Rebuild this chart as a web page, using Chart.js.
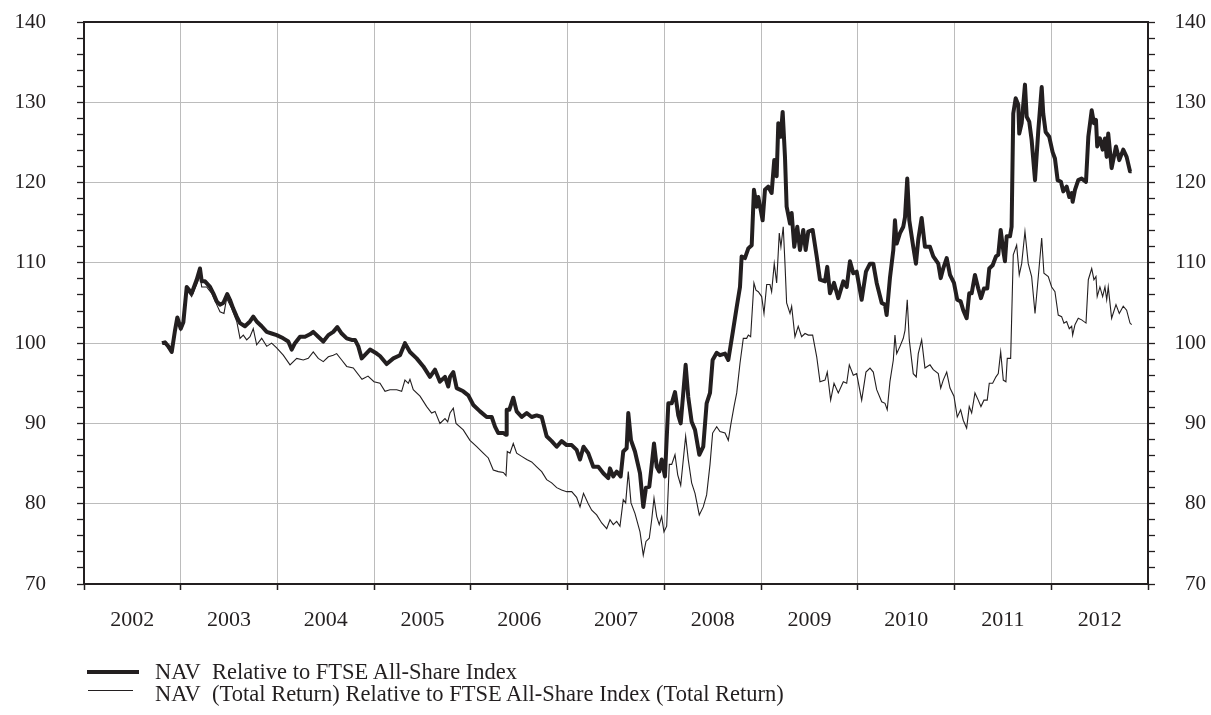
<!DOCTYPE html>
<html>
<head>
<meta charset="utf-8">
<title>NAV relative to FTSE All-Share Index</title>
<script src="https://cdn.jsdelivr.net/npm/chart.js@4.4.0/dist/chart.umd.min.js"></script>
<style>
  body { margin: 0; background: #fff; }
  #wrap { position: relative; width: 1211px; height: 715px; }
  canvas { position: absolute; left: 0; top: 0; }
  .key { position: absolute; background: #231f20; }
  .label {
    position: absolute; left: 155px; white-space: nowrap;
    font-family: 'Liberation Serif', 'Times New Roman', serif;
    font-size: 22.5px; line-height: 22px; color: #231f20;
  }
</style>
</head>
<body>
<div id="wrap">
  <canvas id="chart" width="1211" height="715"></canvas>
  <div class="key" style="left:87px; top:670px; width:52px; height:4px;"></div>
  <div class="label" style="top:661px;">NAV&nbsp; Relative to FTSE All-Share Index</div>
  <div class="key" style="left:88px; top:690px; width:45px; height:1px;"></div>
  <div class="label" style="top:683px;">NAV&nbsp; (Total Return) Relative to FTSE All-Share Index (Total Return)</div>
</div>
<script>
// dates as decimal years
const navYears = [
  2002.806, 2002.837, 2002.872, 2002.907, 2002.941, 2002.965, 2003.000, 2003.027, 2003.062, 2003.089,
  2003.113, 2003.137, 2003.165, 2003.199, 2003.217, 2003.251, 2003.303, 2003.337, 2003.372, 2003.406,
  2003.440, 2003.481, 2003.509, 2003.543, 2003.579, 2003.613, 2003.664, 2003.716, 2003.750, 2003.785,
  2003.837, 2003.889, 2003.940, 2003.992, 2004.060, 2004.112, 2004.147, 2004.181, 2004.233, 2004.285,
  2004.336, 2004.370, 2004.422, 2004.474, 2004.526, 2004.577, 2004.619, 2004.664, 2004.716, 2004.767,
  2004.802, 2004.836, 2004.871, 2004.957, 2005.026, 2005.060, 2005.129, 2005.198, 2005.267, 2005.318,
  2005.370, 2005.439, 2005.508, 2005.577, 2005.629, 2005.680, 2005.732, 2005.766, 2005.784, 2005.818,
  2005.853, 2005.921, 2005.973, 2006.025, 2006.094, 2006.163, 2006.215, 2006.249, 2006.283, 2006.335,
  2006.363, 2006.370, 2006.397, 2006.438, 2006.473, 2006.525, 2006.577, 2006.628, 2006.680, 2006.732,
  2006.783, 2006.835, 2006.887, 2006.938, 2006.990, 2007.042, 2007.093, 2007.128, 2007.164, 2007.213,
  2007.265, 2007.317, 2007.369, 2007.420, 2007.438, 2007.472, 2007.507, 2007.548, 2007.575, 2007.610,
  2007.627, 2007.655, 2007.696, 2007.748, 2007.782, 2007.810, 2007.844, 2007.862, 2007.893, 2007.921,
  2007.947, 2007.972, 2008.006, 2008.041, 2008.076, 2008.110, 2008.144, 2008.169, 2008.220, 2008.247,
  2008.282, 2008.317, 2008.361, 2008.402, 2008.437, 2008.472, 2008.499, 2008.541, 2008.575, 2008.627,
  2008.661, 2008.709, 2008.748, 2008.782, 2008.799, 2008.833, 2008.868, 2008.903, 2008.926, 2008.954,
  2008.971, 2008.996, 2009.016, 2009.040, 2009.074, 2009.109, 2009.136, 2009.161, 2009.178, 2009.202,
  2009.223, 2009.247, 2009.264, 2009.299, 2009.316, 2009.343, 2009.374, 2009.402, 2009.436, 2009.461,
  2009.488, 2009.533, 2009.575, 2009.609, 2009.661, 2009.684, 2009.712, 2009.754, 2009.798, 2009.850,
  2009.885, 2009.919, 2009.953, 2009.988, 2010.040, 2010.084, 2010.126, 2010.160, 2010.195, 2010.247,
  2010.281, 2010.298, 2010.332, 2010.367, 2010.384, 2010.402, 2010.436, 2010.470, 2010.488, 2010.511,
  2010.532, 2010.573, 2010.601, 2010.625, 2010.660, 2010.694, 2010.746, 2010.780, 2010.832, 2010.857,
  2010.883, 2010.919, 2010.953, 2010.994, 2011.028, 2011.063, 2011.090, 2011.125, 2011.152, 2011.177,
  2011.211, 2011.245, 2011.273, 2011.304, 2011.338, 2011.359, 2011.394, 2011.428, 2011.452, 2011.477,
  2011.504, 2011.521, 2011.539, 2011.573, 2011.590, 2011.607, 2011.632, 2011.659, 2011.669, 2011.694,
  2011.728, 2011.746, 2011.772, 2011.797, 2011.832, 2011.866, 2011.901, 2011.917, 2011.942, 2011.979,
  2012.014, 2012.038, 2012.066, 2012.100, 2012.124, 2012.159, 2012.186, 2012.211, 2012.221, 2012.245,
  2012.279, 2012.314, 2012.359, 2012.383, 2012.418, 2012.441, 2012.462, 2012.475, 2012.503, 2012.531,
  2012.555, 2012.573, 2012.589, 2012.624, 2012.669, 2012.703, 2012.744, 2012.779, 2012.814, 2012.831
];
const navValues = [
  100.0, 100.1, 99.6, 98.9, 101.6, 103.2, 101.8, 102.6, 107.0, 106.6,
  106.2, 107.0, 107.9, 109.3, 107.7, 107.7, 107.0, 106.2, 105.2, 104.8,
  105.0, 106.1, 105.4, 104.3, 103.3, 102.5, 102.1, 102.7, 103.3, 102.7,
  102.1, 101.4, 101.2, 101.0, 100.6, 100.2, 99.2, 100.0, 100.8, 100.8,
  101.1, 101.4, 100.8, 100.2, 101.0, 101.4, 102.0, 101.2, 100.6, 100.4,
  100.4, 99.6, 98.1, 99.2, 98.7, 98.4, 97.4, 98.1, 98.5, 100.0,
  98.9, 98.1, 97.1, 95.8, 96.7, 95.2, 95.8, 94.6, 95.8, 96.4,
  94.4, 94.0, 93.5, 92.3, 91.5, 90.8, 90.8, 89.6, 88.8, 88.8,
  88.6, 91.7, 91.7, 93.2, 91.5, 90.8, 91.3, 90.8, 91.0, 90.8,
  88.4, 87.8, 87.1, 87.8, 87.3, 87.3, 86.7, 85.5, 87.1, 86.3,
  84.6, 84.6, 83.8, 83.2, 84.4, 83.4, 84.0, 83.4, 86.5, 86.9,
  91.3, 87.9, 86.5, 83.8, 79.6, 82.0, 82.1, 84.0, 87.5, 84.6,
  84.0, 85.5, 83.4, 92.5, 92.5, 93.9, 91.0, 90.0, 97.3, 93.3,
  90.2, 89.2, 86.1, 87.1, 92.5, 93.8, 97.9, 98.8, 98.5, 98.7,
  97.9, 101.5, 104.5, 107.0, 110.8, 110.6, 111.8, 112.2, 119.1, 117.0,
  118.2, 116.6, 115.3, 119.1, 119.5, 118.7, 122.8, 120.8, 127.4, 125.7,
  128.8, 123.2, 117.0, 114.9, 116.2, 112.0, 114.5, 111.6, 114.1, 111.6,
  113.9, 114.1, 110.8, 107.9, 107.7, 109.5, 106.2, 107.5, 105.6, 107.7,
  107.0, 110.2, 108.7, 108.9, 105.4, 108.9, 109.9, 109.9, 107.5, 105.0,
  104.8, 103.5, 108.1, 111.6, 115.3, 112.4, 113.7, 114.5, 115.7, 120.5,
  115.3, 112.0, 109.9, 112.9, 115.6, 112.0, 112.0, 110.8, 109.9, 108.1,
  109.3, 110.6, 108.5, 107.5, 105.4, 105.2, 104.1, 103.1, 106.2, 106.2,
  108.5, 106.8, 105.6, 106.8, 106.8, 109.3, 109.7, 110.8, 111.0, 114.1,
  111.5, 110.2, 113.3, 113.3, 114.5, 128.6, 130.5, 129.7, 126.1, 127.4,
  132.2, 128.2, 127.6, 125.3, 120.3, 126.5, 131.9, 128.6, 126.3, 125.7,
  123.8, 123.0, 120.3, 120.1, 118.9, 119.5, 118.2, 118.7, 117.6, 119.1,
  120.3, 120.5, 120.1, 125.7, 129.0, 127.4, 127.8, 124.5, 125.5, 124.1,
  125.5, 123.2, 126.1, 121.8, 124.5, 122.8, 124.1, 123.2, 121.4, 121.4
];
const trYears = [
  2002.806, 2002.837, 2002.872, 2002.907, 2002.941, 2002.965, 2003.000, 2003.027, 2003.062, 2003.089,
  2003.113, 2003.137, 2003.165, 2003.199, 2003.217, 2003.268, 2003.320, 2003.372, 2003.406, 2003.447,
  2003.475, 2003.527, 2003.579, 2003.613, 2003.647, 2003.682, 2003.716, 2003.750, 2003.785, 2003.837,
  2003.889, 2003.940, 2003.992, 2004.060, 2004.130, 2004.199, 2004.267, 2004.319, 2004.370, 2004.422,
  2004.474, 2004.526, 2004.577, 2004.612, 2004.664, 2004.716, 2004.784, 2004.874, 2004.936, 2004.998,
  2005.060, 2005.112, 2005.163, 2005.233, 2005.284, 2005.318, 2005.353, 2005.370, 2005.404, 2005.474,
  2005.543, 2005.594, 2005.629, 2005.680, 2005.732, 2005.760, 2005.784, 2005.818, 2005.846, 2005.921,
  2005.990, 2006.060, 2006.128, 2006.180, 2006.231, 2006.283, 2006.335, 2006.363, 2006.376, 2006.404,
  2006.438, 2006.473, 2006.525, 2006.577, 2006.628, 2006.680, 2006.732, 2006.783, 2006.835, 2006.887,
  2006.938, 2006.990, 2007.042, 2007.093, 2007.128, 2007.164, 2007.213, 2007.249, 2007.300, 2007.352,
  2007.404, 2007.438, 2007.472, 2007.507, 2007.541, 2007.575, 2007.600, 2007.627, 2007.655, 2007.696,
  2007.748, 2007.782, 2007.810, 2007.844, 2007.869, 2007.893, 2007.921, 2007.947, 2007.972, 2007.996,
  2008.024, 2008.051, 2008.076, 2008.110, 2008.138, 2008.169, 2008.220, 2008.247, 2008.282, 2008.317,
  2008.361, 2008.402, 2008.437, 2008.472, 2008.499, 2008.541, 2008.575, 2008.627, 2008.661, 2008.689,
  2008.720, 2008.748, 2008.782, 2008.816, 2008.851, 2008.868, 2008.892, 2008.926, 2008.947, 2008.971,
  2009.006, 2009.030, 2009.058, 2009.092, 2009.109, 2009.136, 2009.161, 2009.188, 2009.205, 2009.229,
  2009.247, 2009.264, 2009.299, 2009.316, 2009.350, 2009.384, 2009.419, 2009.454, 2009.488, 2009.533,
  2009.575, 2009.609, 2009.661, 2009.684, 2009.719, 2009.754, 2009.798, 2009.850, 2009.885, 2009.912,
  2009.953, 2009.988, 2010.040, 2010.084, 2010.126, 2010.160, 2010.195, 2010.247, 2010.281, 2010.304,
  2010.332, 2010.367, 2010.384, 2010.402, 2010.436, 2010.470, 2010.488, 2010.511, 2010.532, 2010.573,
  2010.604, 2010.625, 2010.660, 2010.694, 2010.746, 2010.780, 2010.832, 2010.857, 2010.883, 2010.919,
  2010.953, 2010.994, 2011.028, 2011.063, 2011.090, 2011.125, 2011.152, 2011.177, 2011.211, 2011.245,
  2011.273, 2011.304, 2011.338, 2011.359, 2011.394, 2011.428, 2011.452, 2011.477, 2011.504, 2011.531,
  2011.545, 2011.580, 2011.607, 2011.642, 2011.669, 2011.694, 2011.728, 2011.762, 2011.797, 2011.832,
  2011.866, 2011.901, 2011.924, 2011.969, 2012.004, 2012.038, 2012.072, 2012.107, 2012.131, 2012.159,
  2012.186, 2012.211, 2012.221, 2012.245, 2012.279, 2012.314, 2012.359, 2012.383, 2012.418, 2012.441,
  2012.462, 2012.475, 2012.503, 2012.531, 2012.555, 2012.573, 2012.589, 2012.624, 2012.669, 2012.703,
  2012.744, 2012.779, 2012.814, 2012.831
];
const trValues = [
  100.0, 100.0, 99.3, 98.8, 101.3, 102.8, 101.6, 102.3, 106.5, 106.2,
  105.8, 106.5, 107.3, 108.4, 107.0, 107.0, 106.2, 104.8, 103.9, 103.7,
  105.6, 104.3, 102.7, 100.6, 101.0, 100.4, 100.8, 101.8, 99.8, 100.6,
  99.6, 100.0, 99.4, 98.5, 97.3, 98.1, 97.9, 98.1, 98.9, 98.1,
  97.7, 98.3, 98.5, 98.7, 97.9, 97.1, 96.9, 95.5, 95.9, 95.2,
  95.0, 94.0, 94.2, 94.2, 94.0, 95.4, 95.0, 95.5, 94.2, 93.4,
  92.1, 91.3, 91.5, 90.0, 90.6, 90.2, 91.3, 91.9, 90.0, 89.2,
  87.9, 87.1, 86.3, 85.7, 84.2, 84.0, 83.9, 83.5, 86.5, 86.3,
  87.5, 86.3, 85.9, 85.5, 85.2, 84.6, 84.0, 83.0, 82.6, 82.0,
  81.7, 81.5, 81.5, 80.8, 79.6, 81.3, 80.0, 79.2, 78.6, 77.6,
  76.9, 78.0, 77.4, 77.8, 77.2, 80.5, 80.1, 84.0, 80.1, 78.8,
  76.5, 73.6, 75.3, 75.7, 78.0, 80.7, 78.4, 77.4, 78.4, 76.5,
  77.2, 84.9, 84.9, 86.1, 83.6, 82.3, 88.4, 85.5, 82.6, 81.3,
  78.6, 79.6, 81.1, 84.9, 88.8, 89.6, 89.0, 88.8, 87.9, 90.0,
  92.1, 93.8, 97.5, 100.6, 100.6, 101.0, 100.8, 107.5, 106.6, 106.4,
  105.8, 103.7, 107.3, 107.3, 106.4, 109.9, 107.5, 113.7, 112.0, 114.5,
  109.9, 105.0, 103.7, 104.6, 100.8, 102.1, 100.8, 101.2, 101.0, 101.0,
  98.3, 95.2, 95.4, 96.4, 92.9, 95.0, 93.8, 95.2, 95.0, 97.3,
  96.0, 96.2, 92.9, 96.4, 96.9, 96.4, 94.2, 92.7, 92.5, 91.7,
  95.2, 97.9, 101.0, 98.7, 99.6, 100.6, 101.6, 105.4, 100.4, 96.2,
  95.8, 98.7, 100.4, 96.9, 97.3, 96.7, 96.2, 94.4, 95.4, 96.4,
  94.4, 93.4, 90.8, 91.7, 90.4, 89.4, 92.1, 91.3, 93.8, 92.9,
  92.1, 92.9, 92.9, 95.0, 95.0, 95.8, 96.2, 98.9, 95.4, 95.2,
  98.1, 98.1, 111.0, 112.2, 108.5, 109.9, 113.9, 109.9, 108.3, 103.7,
  108.3, 113.1, 108.7, 108.3, 107.0, 106.4, 103.5, 103.3, 102.5, 102.7,
  101.8, 102.1, 101.0, 102.3, 103.1, 102.9, 102.5, 107.9, 109.3, 107.9,
  108.3, 105.8, 107.0, 105.8, 107.0, 105.4, 107.0, 103.1, 104.8, 103.7,
  104.6, 104.1, 102.5, 102.3
];

const yearMin = 2002;
const yearMax = 2013;
const valueMin = 70;
const valueMax = 140;

const ink = '#231f20';
const gridGrey = '#bcbcbc';
const none = 'rgba(0,0,0,0)';
const serif = "'Liberation Serif', 'Times New Roman', serif";

const toPoints = (xs, ys) => xs.map((x, i) => ({ x: x, y: ys[i] }));

// dark frame round the plot area, drawn over the grid
const framePlugin = {
  id: 'frame',
  afterDraw(chart) {
    const { ctx, chartArea: a } = chart;
    ctx.save();
    ctx.strokeStyle = ink;
    ctx.lineWidth = 2;
    ctx.strokeRect(a.left, a.top, a.right - a.left, a.bottom - a.top);
    ctx.restore();
  }
};

// fixed axis width; drop the label padding chart.js adds above/below the plot
const fitY = width => s => {
  s.width = width;
  s.paddingTop = 0;
  s.paddingBottom = 0;
};

const yTicks = (extra) => Object.assign({
  stepSize: 2,
  autoSkip: false,
  color: ink,
  font: { family: serif, size: 21 },
  callback: v => (v % 10 === 0 ? v : '')
}, extra);

new Chart(document.getElementById('chart'), {
  type: 'line',
  data: {
    datasets: [
      {
        label: 'NAV Relative to FTSE All-Share Index',
        data: toPoints(navYears, navValues),
        borderColor: ink,
        borderWidth: 4,
        borderJoinStyle: 'round',
        pointRadius: 0,
        tension: 0
      },
      {
        label: 'NAV (Total Return) Relative to FTSE All-Share Index (Total Return)',
        data: toPoints(trYears, trValues),
        borderColor: ink,
        borderWidth: 1.1,
        pointRadius: 0,
        tension: 0
      }
    ]
  },
  options: {
    responsive: false,
    animation: false,
    events: [],
    layout: { padding: { top: 22, right: 5, left: 0, bottom: 0 } },
    plugins: { legend: { display: false }, tooltip: { enabled: false } },
    scales: {
      x: {
        type: 'linear',
        min: yearMin,
        max: yearMax,
        afterFit: s => { s.height = 131; },
        border: { display: false },
        grid: {
          color: c => (c.tick && c.tick.value % 1 === 0 ? gridGrey : none),
          tickColor: c => (c.tick && c.tick.value % 1 === 0 ? ink : none),
          tickLength: 6,
          tickWidth: 1.5
        },
        ticks: {
          stepSize: 0.5,
          autoSkip: false,
          maxRotation: 0,
          padding: 17,
          color: ink,
          font: { family: serif, size: 22 },
          callback: v => (v % 1 === 0.5 ? String(Math.floor(v)) : '')
        }
      },
      y: {
        position: 'left',
        min: valueMin,
        max: valueMax,
        afterFit: fitY(84),
        border: { display: false },
        grid: {
          color: c => (c.tick && c.tick.value % 10 === 0 ? gridGrey : none),
          tickColor: ink,
          tickLength: 7,
          tickWidth: 1.3
        },
        ticks: yTicks({ padding: 31 })
      },
      y2: {
        position: 'right',
        min: valueMin,
        max: valueMax,
        afterFit: fitY(58),
        border: { display: false },
        grid: {
          drawOnChartArea: false,
          tickColor: ink,
          tickLength: 7,
          tickWidth: 1.3
        },
        ticks: yTicks({ crossAlign: 'far' })
      }
    }
  },
  plugins: [framePlugin]
});
</script>
</body>
</html>
